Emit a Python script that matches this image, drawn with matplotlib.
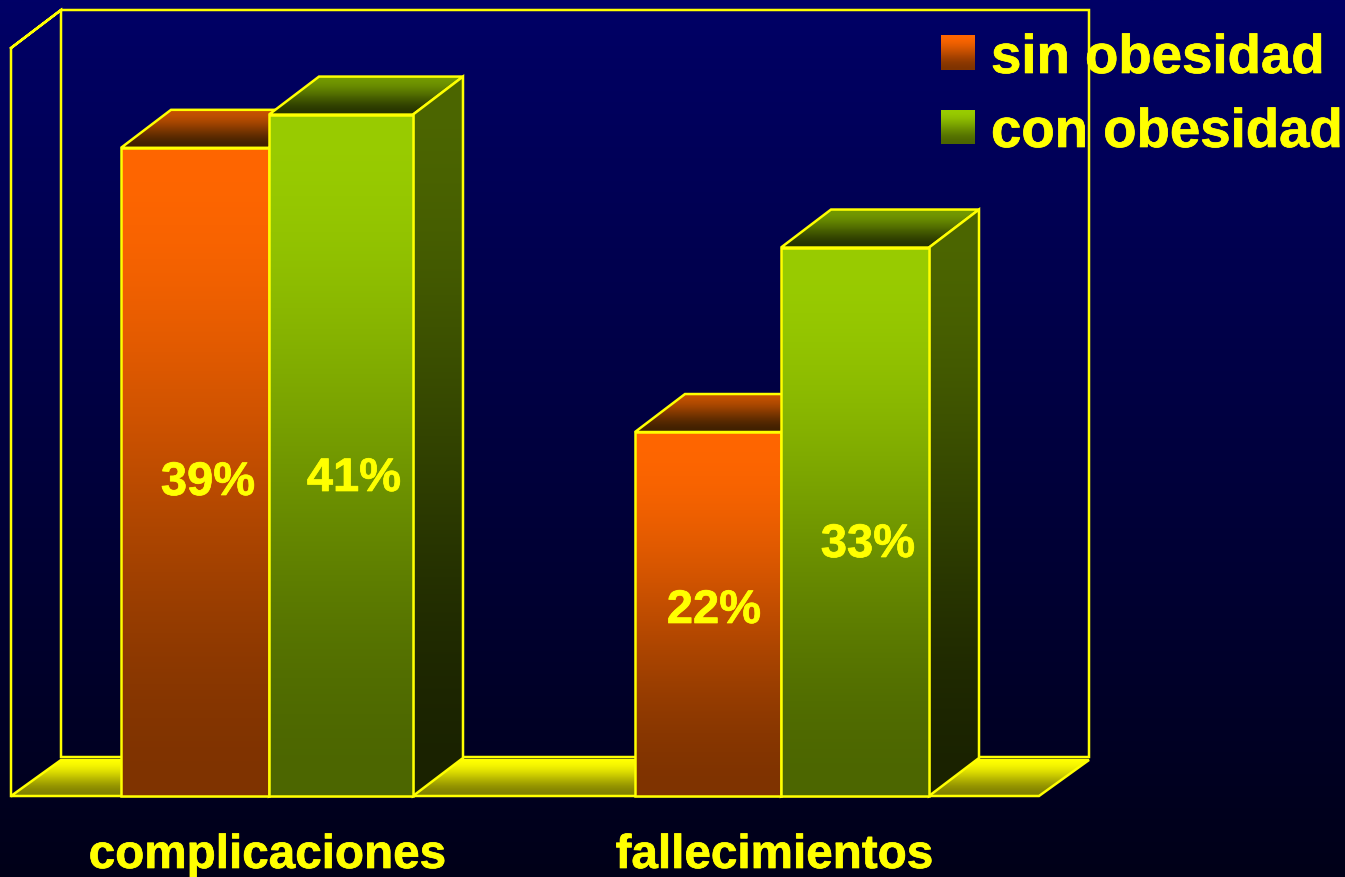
import numpy as np
import matplotlib
matplotlib.use('Agg')
import matplotlib.pyplot as plt
import matplotlib.patheffects as pe
from matplotlib.patches import Polygon

# data
categories = ['complicaciones', 'fallecimientos']
series_names = ['sin obesidad', 'con obesidad']
sin_obesidad = [39, 21.9]
con_obesidad = [41, 33]

# layout, in pixels of the 1345x877 picture
W, H = 1345, 877
FLOOR_Y = 796
PX_PER_PCT = 16.62
DX = 50
DY = 38 / PX_PER_PCT
LW = 1.8
YELLOW = '#FFFF00'
bar_edges = [(121, 269, 413), (635, 781, 929)]
cat_x = [267.5, 774.5]
label_x = [(208, 354), (714, 868)]
label_base = [(495, 491), (623, 557)]

plt.rcParams['font.family'] = ['Liberation Sans', 'DejaVu Sans']
plt.rcParams['font.weight'] = 'bold'

fig = plt.figure(figsize=(W / 100, H / 100), dpi=100)
ax = fig.add_axes([0, 0, 1, 1])
halo = [pe.withStroke(linewidth=0.5, foreground=YELLOW)]


def py(y):
    # pixel row to percent value
    return (FLOOR_Y - y) / PX_PER_PCT


def gradient(x0, x1, y0, y1, top, bottom, clip=None, z=1, smooth=True):
    a = np.array(matplotlib.colors.to_rgb(top))
    b = np.array(matplotlib.colors.to_rgb(bottom))
    t = np.linspace(0, 1, 256)[:, None, None]
    # the fills flatten out at both ends, only the background is plain linear
    if smooth:
        t = t * t * (3 - 2 * t)
    img = a * (1 - t) + b * t
    im = ax.imshow(img, extent=(x0, x1, y0, y1), aspect='auto', origin='upper',
                   interpolation='bilinear', zorder=z)
    if clip is not None:
        im.set_clip_path(clip)
    return im


def face(points, top, bottom, z):
    ys = [p[1] for p in points]
    xs = [p[0] for p in points]
    patch = Polygon(points, closed=True, facecolor='none', edgecolor=YELLOW, linewidth=LW,
                    joinstyle='miter', zorder=z + 0.5)
    ax.add_patch(patch)
    gradient(min(xs), max(xs), min(ys), max(ys), top, bottom, clip=patch, z=z)


def bar3d(x0, x1, v, colors, z):
    front_top, front_bottom, top_back, top_front, side_top, side_bottom = colors
    face([(x0, v), (x0 + DX, v + DY), (x1 + DX, v + DY), (x1, v)], top_back, top_front, z)
    face([(x1, 0), (x1, v), (x1 + DX, v + DY), (x1 + DX, DY)], side_top, side_bottom, z + 1)
    b = ax.bar(x0, v, width=x1 - x0, align='edge', facecolor='none', edgecolor=YELLOW,
               linewidth=LW, zorder=z + 2.5)[0]
    gradient(x0, x1, 0, v, front_top, front_bottom, clip=b, z=z + 2)


orange = ['#FF6600', '#7F3300', '#C65200', '#402000', '#7F3300', '#2A1100']
green = ['#99CC00', '#4C6600', '#739900', '#263300', '#4C6600', '#1A2200']

# background
gradient(0, W, py(H), py(0), '#000066', '#000018', z=0, smooth=False)

# walls and floor
ax.plot([11, 11, 61, 1089, 1089, 61, 61, 11],
        [0, py(48), py(10), py(10), py(757), py(757), py(10), py(48)],
        color=YELLOW, lw=LW, zorder=1, solid_joinstyle='miter')
face([(11, 0), (61, py(760)), (1089, py(760)), (1039, 0)], YELLOW, '#7F7F00', 2)

for i in range(len(categories)):
    x0, xm, x1 = bar_edges[i]
    bar3d(x0, xm, sin_obesidad[i], orange, 10)
    bar3d(xm, x1, con_obesidad[i], green, 20)
    ax.text(label_x[i][0], py(label_base[i][0]), f'{sin_obesidad[i]:.0f}%', color=YELLOW,
            fontsize=33.9, ha='center', va='baseline', zorder=40, path_effects=halo)
    ax.text(label_x[i][1], py(label_base[i][1]), f'{con_obesidad[i]:.0f}%', color=YELLOW,
            fontsize=33.9, ha='center', va='baseline', zorder=40, path_effects=halo)
    ax.text(cat_x[i], py(868), categories[i], color=YELLOW, fontsize=34.3,
            ha='center', va='baseline', zorder=40, path_effects=halo)

# legend
legend_rows = [(36, 70, 73, orange), (110, 144, 147, green)]
for name, (y0, y1, base, cols) in zip(series_names, legend_rows):
    gradient(941, 975, py(y1), py(y0), cols[0], cols[1], z=30)
    ax.text(991, py(base), name, color=YELLOW, fontsize=39.3, ha='left', va='baseline',
            zorder=40, path_effects=halo)

ax.set_xlim(0, W)
ax.set_ylim(py(H), py(0))
ax.axis('off')
fig.savefig('out.png', dpi=100)
